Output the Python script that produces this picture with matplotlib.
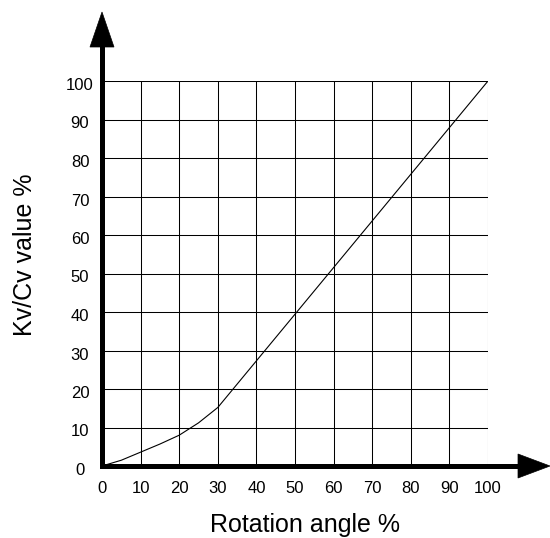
import matplotlib
matplotlib.use("Agg")
import matplotlib.pyplot as plt
from matplotlib.patches import Polygon
from matplotlib.transforms import ScaledTranslation

plt.rcParams['font.family'] = ['Liberation Sans', 'DejaVu Sans']

# Data
rotation = [0, 5, 10, 15, 20, 25, 30, 100]
kv_value = [0, 1.5, 3.6, 5.7, 8.0, 11.2, 15.2, 100]
x_ticks = [0, 10, 20, 30, 40, 50, 60, 70, 80, 90, 100]
y_ticks = [0, 10, 20, 30, 40, 50, 60, 70, 80, 90, 100]
x_label = "Rotation angle %"
y_label = "Kv/Cv value %"

W, H = 550, 538
dpi = 100
fig = plt.figure(figsize=(W / dpi, H / dpi), dpi=dpi)
L, R, T, B = 102, 488, 81, 466
ax = fig.add_axes([L / W, (H - B) / H, (R - L) / W, (B - T) / H])
ax.set_xlim(0, 100)
ax.set_ylim(0, 100)

ax.plot(rotation, kv_value, color='black', lw=0.8, zorder=3)

ax.set_xticks(x_ticks)
ax.set_yticks(y_ticks)
ax.set_xticklabels([str(t) for t in x_ticks])
ax.set_yticklabels([str(t) for t in y_ticks])
ax.grid(True, color='black', lw=0.75)
ax.tick_params(axis='both', length=0, labelsize=12)
ax.tick_params(axis='x', pad=10.5)
ax.tick_params(axis='y', pad=15.8)
for lab in ax.get_yticklabels():
    lab.set_horizontalalignment('center')
    lab.set_transform(lab.get_transform() + ScaledTranslation(0, -3 / 72 * 0.72, fig.dpi_scale_trans))
for s in ax.spines.values():
    s.set_visible(False)

lw_ax = 5 * 72 / dpi
aw = R - L
ah = B - T
# axis shafts
ax.plot([0, (518 - L) / aw], [0, 0], transform=ax.transAxes, color='black',
        lw=lw_ax, solid_capstyle='projecting', clip_on=False, zorder=5)
ax.plot([0, 0], [0, (B - 47) / ah], transform=ax.transAxes, color='black',
        lw=lw_ax, solid_capstyle='projecting', clip_on=False, zorder=5)
# arrow heads
hx = [((518 - L) / aw, 12 / ah), ((550 - L) / aw, 0), ((518 - L) / aw, -12 / ah)]
hy = [(-12 / aw, (B - 47) / ah), (0, (B - 12) / ah), (12 / aw, (B - 47) / ah)]
for pts in (hx, hy):
    ax.add_patch(Polygon(pts, closed=True, transform=ax.transAxes, facecolor='black',
                         edgecolor='black', lw=0.5, clip_on=False, zorder=6))

fig.text(304.5 / W, 1 - 525 / H, x_label, ha='center', va='center', fontsize=18)
fig.text(25 / W, 1 - 255 / H, y_label, ha='center', va='center', fontsize=18, rotation=90)

fig.savefig('out.png', dpi=dpi)
